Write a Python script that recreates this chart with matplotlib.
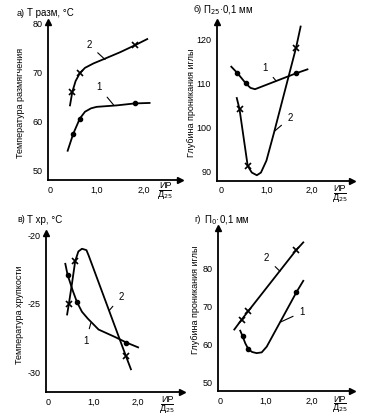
import matplotlib.pyplot as plt

plt.rcParams['font.family'] = ['Liberation Sans', 'DejaVu Sans']

# а) softening temperature, °C
a_x1 = [0.38, 0.50, 0.64, 0.75, 0.88, 1.00, 1.43, 1.81, 2.13]
a_y1 = [54.0, 57.5, 60.6, 62.0, 62.7, 63.0, 63.3, 63.7, 63.8]
a_mx1 = [0.50, 0.64, 1.81]
a_my1 = [57.5, 60.6, 63.7]
a_x2 = [0.43, 0.48, 0.55, 0.64, 0.75, 0.93, 1.13, 1.50, 1.81, 2.08]
a_y2 = [63.3, 66.1, 68.3, 69.9, 71.0, 71.9, 72.7, 74.2, 75.6, 76.9]
a_mx2 = [0.48, 0.64, 1.81]
a_my2 = [66.1, 69.9, 75.6]
a_yticks = [50, 60, 70, 80]

# б) penetration at 25 °C, 0.1 mm
b_x1 = [0.23, 0.36, 0.55, 0.65, 0.75, 1.20, 1.65, 1.90]
b_y1 = [113.8, 112.4, 110.0, 109.0, 108.7, 110.5, 112.3, 113.2]
b_mx1 = [0.36, 0.55, 1.65]
b_my1 = [112.4, 110.0, 112.3]
b_x2 = [0.35, 0.41, 0.59, 0.68, 0.79, 0.88, 1.00, 1.16, 1.65, 1.75]
b_y2 = [106.7, 104.2, 91.3, 89.8, 89.2, 89.8, 92.5, 98.6, 118.1, 122.9]
b_mx2 = [0.41, 0.59, 1.65]
b_my2 = [104.2, 91.3, 118.1]
b_yticks = [90, 100, 110, 120]

# в) brittleness temperature, °C
c_x1 = [0.38, 0.43, 0.55, 0.64, 0.75, 0.88, 1.12, 1.49, 1.74, 2.00]
c_y1 = [-22.1, -22.9, -24.1, -24.9, -25.6, -26.1, -26.9, -27.45, -27.85, -28.2]
c_mx1 = [0.43, 0.64, 1.74]
c_my1 = [-22.9, -24.9, -27.85]
c_x2 = [0.42, 0.46, 0.53, 0.60, 0.67, 0.75, 0.85, 0.90, 1.73, 1.84]
c_y2 = [-25.8, -25.0, -23.5, -21.9, -21.2, -21.0, -21.1, -21.5, -28.85, -29.8]
c_mx2 = [0.46, 0.60, 1.73]
c_my2 = [-25.0, -21.9, -28.85]
c_yticks = [-30, -25, -20]

# г) penetration at 0 °C, 0.1 mm
d_x1 = [0.44, 0.49, 0.55, 0.62, 0.70, 0.80, 0.91, 1.02, 1.67, 1.82]
d_y1 = [63.7, 62.3, 60.4, 58.8, 58.1, 57.8, 58.0, 59.5, 73.8, 76.8]
d_mx1 = [0.49, 0.62, 1.67]
d_my1 = [62.3, 58.8, 73.8]
d_x2 = [0.31, 0.47, 0.62, 1.66, 1.82]
d_y2 = [64.0, 66.6, 68.9, 84.8, 86.9]
d_mx2 = [0.47, 0.62, 1.66]
d_my2 = [66.6, 68.9, 84.8]
d_yticks = [50, 60, 70, 80]

xticks = [0, 1, 2]
xticklabels = ['0', '1,0', '2,0']

W, H = 377, 420
fig = plt.figure(figsize=(W / 100, H / 100), dpi=100)


def make_axes(box, xlim, ylim, yticks):
    # box in pixels: spine x, baseline y, top y, right x
    sx, by, ty, rx = box
    ax = fig.add_axes([sx / W, 1 - by / H, (rx - sx) / W, (by - ty) / H])
    ax.set_xlim(xlim)
    ax.set_ylim(ylim)
    ax.patch.set_visible(False)
    for s in ['top', 'right']:
        ax.spines[s].set_visible(False)
    for s in ['left', 'bottom']:
        ax.spines[s].set_linewidth(1.3)
    ax.plot(1, 0, '>k', ms=4, transform=ax.transAxes, clip_on=False)
    ax.plot(0, 1, '^k', ms=4, transform=ax.transAxes, clip_on=False)
    ax.set_xticks(xticks)
    ax.set_xticklabels(xticklabels)
    ax.set_yticks(yticks)
    ax.set_yticklabels([str(v) for v in yticks])
    ax.tick_params(length=0, labelsize=6.5, pad=4)
    return ax


def draw(ax, x1, y1, mx1, my1, x2, y2, mx2, my2):
    ax.plot(x1, y1, color='black', lw=1.3)
    ax.plot(mx1, my1, 'o', color='black', ms=3)
    ax.plot(x2, y2, color='black', lw=1.3)
    ax.plot(mx2, my2, 'x', color='black', ms=5, mew=1.2)


def label(ax, txt, xy, xytext):
    ax.annotate(txt, xy=xy, xytext=xytext, fontsize=7, ha='center', va='center',
                arrowprops=dict(arrowstyle='-', color='black', lw=0.8, shrinkA=3, shrinkB=0))


def head(x, y, letter, txt):
    fig.text(x / W, 1 - y / H, letter, fontsize=6.5, ha='left', va='center')
    fig.text((x + 10) / W, 1 - y / H, txt, fontsize=7, ha='left', va='center')


def ylab(x, y, txt):
    fig.text(x / W, 1 - y / H, txt, fontsize=6.5, rotation=90, ha='center', va='center')


def xlab(x, y):
    fig.text(x / W, 1 - y / H, 'ИР', fontsize=6.5, ha='center', va='center')
    fig.add_artist(plt.Line2D([(x - 6) / W, (x + 6) / W], [1 - (y + 4) / H, 1 - (y + 4) / H],
                              color='black', lw=0.7))
    fig.text(x / W, 1 - (y + 9) / H, 'Д$_{25}$', fontsize=6.5, ha='center', va='center')


# а)
ax = make_axes((48, 180, 22, 180), (-0.04, 2.78), (48.0, 80.4), a_yticks)
draw(ax, a_x1, a_y1, a_mx1, a_my1, a_x2, a_y2, a_mx2, a_my2)
label(ax, '2', (1.18, 72.7), (0.84, 75.7))
label(ax, '1', (1.36, 63.4), (1.05, 67.0))
head(17, 13, 'а)', 'Т разм, °С')
ylab(21, 103, 'Температура размягчения')
xlab(165, 186)

# б)
ax = make_axes((216.7, 180.7, 21.7, 351.7), (-0.09, 2.87), (87.96, 124.0), b_yticks)
draw(ax, b_x1, b_y1, b_mx1, b_my1, b_x2, b_y2, b_mx2, b_my2)
label(ax, '1', (1.21, 110.6), (0.97, 113.6))
label(ax, '2', (1.18, 99.2), (1.52, 102.2))
head(193, 10, 'б)', 'П$_{25}$·0,1 мм')
ylab(192, 103, 'Глубина проникания иглы')
xlab(340, 189)

# в)
ax = make_axes((46, 392, 233, 181.7), (-0.05, 2.97), (-31.46, -19.85), c_yticks)
draw(ax, c_x1, c_y1, c_mx1, c_my1, c_x2, c_y2, c_mx2, c_my2)
label(ax, '1', (0.95, -26.4), (0.84, -27.7))
label(ax, '2', (1.36, -25.5), (1.62, -24.5))
head(17, 220, 'в)', 'Т хр, °С')
ylab(20, 315, 'Температура хрупкости')
xlab(167, 400)

# г)
ax = make_axes((218.3, 391, 228.3, 351.7), (-0.04, 2.88), (47.85, 90.6), d_yticks)
draw(ax, d_x1, d_y1, d_mx1, d_my1, d_x2, d_y2, d_mx2, d_my2)
label(ax, '2', (1.31, 79.3), (1.02, 82.7))
label(ax, '1', (1.31, 65.9), (1.80, 68.6))
head(194, 220, 'г)', 'П$_0$·0,1 мм')
ylab(195, 300, 'Глубина проникания иглы')
xlab(340, 399)

fig.savefig('out.png', dpi=100)
